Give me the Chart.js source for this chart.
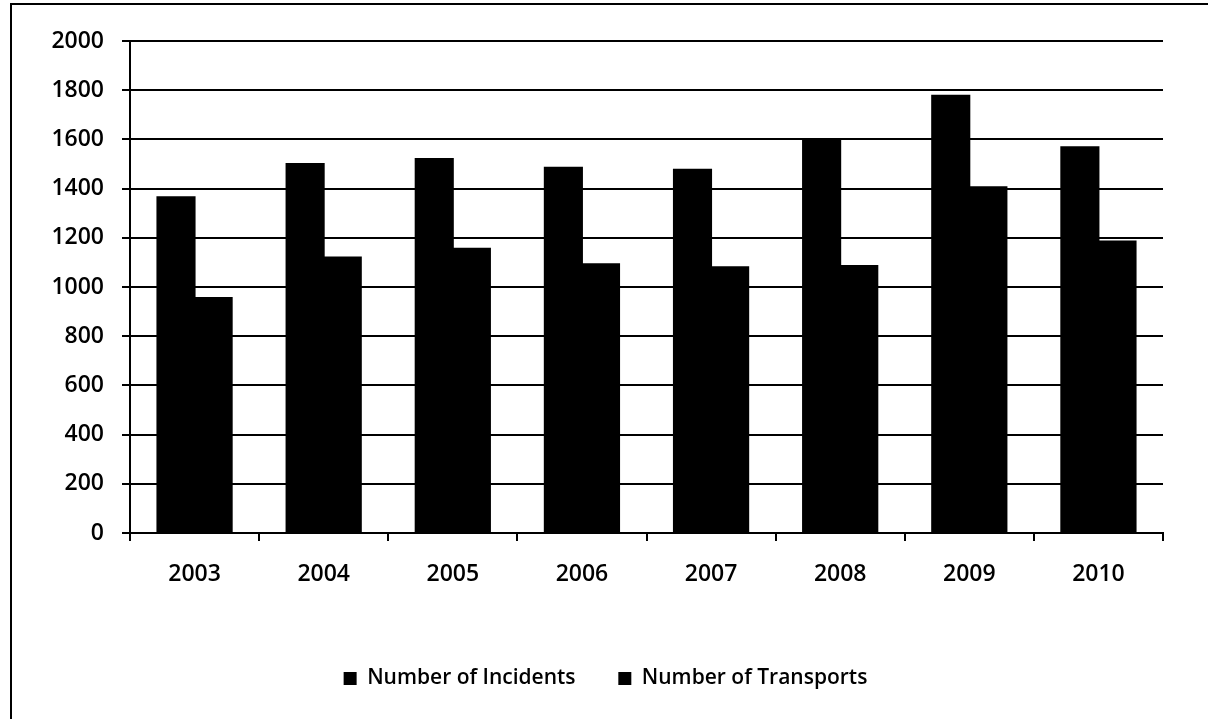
<!DOCTYPE html>
<html>
<head>
<meta charset="utf-8">
<script src="https://cdn.jsdelivr.net/npm/chart.js@4"></script>
<style>
  body { margin: 0; background: #fff; }
  #wrap { position: relative; width: 1208px; height: 719px; }
  #frame { position: absolute; left: 10px; top: 3px; right: 0; bottom: 0;
           border-top: 2px solid #000; border-left: 2px solid #000; }
  canvas { position: absolute; left: 0; top: 0; }
</style>
</head>
<body>
<div id="wrap">
  <div id="frame"></div>
  <canvas id="myChart" width="1208" height="719"></canvas>
</div>
<script>
var years = ['2003', '2004', '2005', '2006', '2007', '2008', '2009', '2010']
var incidents = [1365, 1500, 1520, 1485, 1477, 1602, 1777, 1568]
var transports = [955, 1120, 1155, 1092, 1080, 1085, 1405, 1185]
var seriesNames = ['Number of Incidents', 'Number of Transports']
var yTicks = [0, 200, 400, 600, 800, 1000, 1200, 1400, 1600, 1800, 2000]

var tickFont = { family: "'Open Sans', sans-serif", size: 23, weight: '600' }
var legendFont = { family: "'Open Sans', sans-serif", size: 21, weight: '600' }

var ctx = document.getElementById('myChart').getContext('2d')
var chart = new Chart(ctx, {
  type: 'bar',
  data: {
    labels: years,
    datasets: [
      {
        label: seriesNames[0],
        data: incidents,
        backgroundColor: '#000000',
        borderWidth: 0,
        inflateAmount: 1,
        barPercentage: 1,
        categoryPercentage: 0.575
      },
      {
        label: seriesNames[1],
        data: transports,
        backgroundColor: '#000000',
        borderWidth: 0,
        inflateAmount: 1,
        barPercentage: 1,
        categoryPercentage: 0.575
      }
    ]
  },
  options: {
    responsive: false,
    animation: false,
    // left padding is larger so the centred legend sits a bit to the right
    layout: { padding: { left: 48, top: 41, right: 45, bottom: 20 } },
    plugins: {
      tooltip: { enabled: false },
      legend: {
        position: 'bottom',
        labels: {
          color: '#000',
          font: legendFont,
          boxWidth: 13,
          boxHeight: 13,
          padding: 10,
          generateLabels: function(c) {
            var items = Chart.defaults.plugins.legend.labels.generateLabels(c)
            // wider gap between the two entries
            items[0].text = items[0].text + '      '
            return items
          }
        }
      }
    },
    scales: {
      x: {
        afterFit: function(scale) { scale.height = 125 },
        grid: {
          offset: true,
          drawOnChartArea: false,
          color: '#000',
          lineWidth: 2,
          tickLength: 8
        },
        border: { color: '#000', width: 2 },
        ticks: { color: '#000', font: tickFont, padding: 20 }
      },
      y: {
        min: 0,
        max: 2000,
        afterFit: function(scale) { scale.width = 82 },
        afterBuildTicks: function(scale) {
          scale.ticks = yTicks.map(function(v) { return { value: v } })
        },
        grid: { color: '#000', lineWidth: 2, tickLength: 8 },
        border: { color: '#000', width: 2 },
        ticks: {
          color: '#000',
          font: tickFont,
          padding: 18,
          callback: function(v) { return String(v) }
        }
      }
    }
  }
})
</script>
</body>
</html>
